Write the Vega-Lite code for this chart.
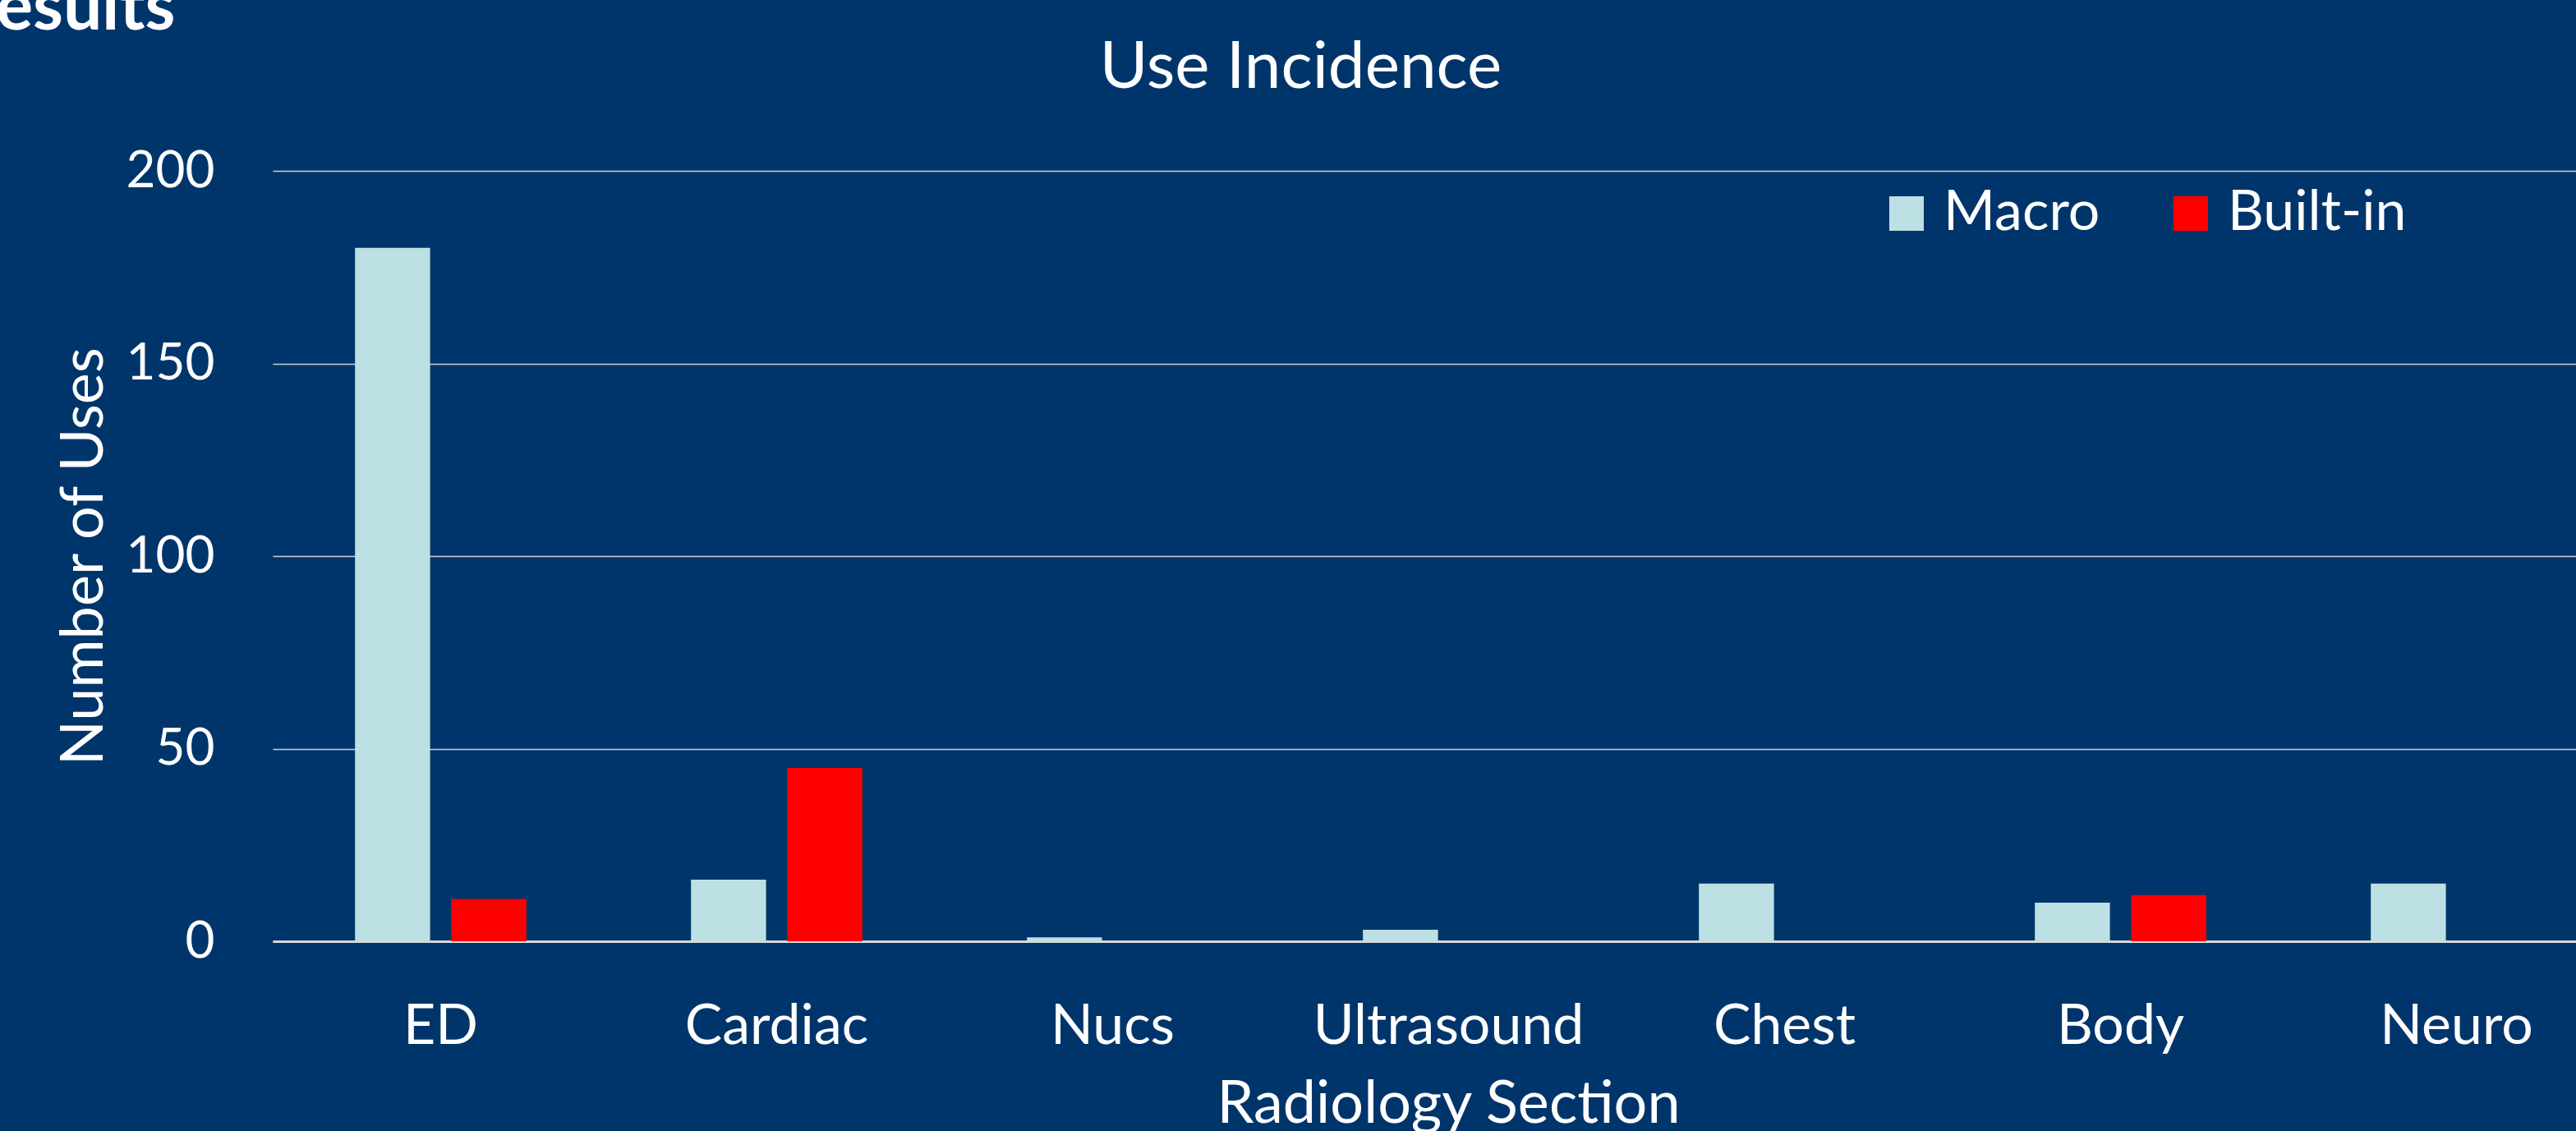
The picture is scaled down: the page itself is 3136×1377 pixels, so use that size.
{
  "$schema": "https://vega.github.io/schema/vega-lite/v6.json",
  "autosize": {"type": "none"},
  "width": 2863,
  "height": 938,
  "padding": {"left": 332, "top": 208, "right": 0, "bottom": 231},
  "background": "#00356b",
  "config": {"view": {"stroke": null}, "font": "Lato"},
  "title": {
    "text": "Results",
    "orient": "none",
    "anchor": "start",
    "align": "left",
    "baseline": "alphabetic",
    "dx": -388,
    "dy": -172,
    "fontSize": 84,
    "fontWeight": "bold",
    "color": "#ffffff",
    "font": "Lato"
  },
  "data": {
    "values": [
      {"section": "ED", "type": "Macro", "uses": 180},
      {"section": "ED", "type": "Built-in", "uses": 11},
      {"section": "Cardiac", "type": "Macro", "uses": 16},
      {"section": "Cardiac", "type": "Built-in", "uses": 45},
      {"section": "Nucs", "type": "Macro", "uses": 1},
      {"section": "Nucs", "type": "Built-in", "uses": 0},
      {"section": "Ultrasound", "type": "Macro", "uses": 3},
      {"section": "Ultrasound", "type": "Built-in", "uses": 0},
      {"section": "Chest", "type": "Macro", "uses": 15},
      {"section": "Chest", "type": "Built-in", "uses": 0},
      {"section": "Body", "type": "Macro", "uses": 10},
      {"section": "Body", "type": "Built-in", "uses": 12},
      {"section": "Neuro", "type": "Macro", "uses": 15},
      {"section": "Neuro", "type": "Built-in", "uses": 0}
    ]
  },
  "encoding": {
    "x": {
      "field": "section",
      "type": "nominal",
      "sort": ["ED", "Cardiac", "Nucs", "Ultrasound", "Chest", "Body", "Neuro"],
      "scale": {"paddingInner": 0.49, "paddingOuter": 0.245},
      "axis": {
        "orient": "bottom",
        "title": "Radiology Section",
        "labelAngle": 0,
        "labelFontSize": 68,
        "labelColor": "#ffffff",
        "labelBaseline": "alphabetic",
        "labelPadding": 124,
        "labelLimit": 800,
        "ticks": false,
        "grid": false,
        "domain": true,
        "domainColor": "#d9d9d9",
        "domainWidth": 3,
        "titleFontSize": 72,
        "titleFontWeight": "normal",
        "titleColor": "#ffffff",
        "titleBaseline": "alphabetic",
        "titleAlign": "center",
        "titleX": 1431,
        "titleY": 220,
        "titleLimit": 1200
      }
    },
    "xOffset": {
      "field": "type",
      "type": "nominal",
      "sort": ["Macro", "Built-in"],
      "scale": {"paddingInner": 0.22, "paddingOuter": 0}
    },
    "y": {
      "field": "uses",
      "type": "quantitative",
      "scale": {"domain": [0, 200], "nice": false},
      "axis": {
        "title": "Number of Uses",
        "values": [0, 50, 100, 150, 200],
        "labelFontSize": 62,
        "labelColor": "#ffffff",
        "labelPadding": 71,
        "ticks": false,
        "domain": false,
        "grid": true,
        "gridColor": "#d0d0d0",
        "gridWidth": 1.5,
        "titleFontSize": 72,
        "titleFontWeight": "normal",
        "titleColor": "#ffffff",
        "titleAngle": 270,
        "titleBaseline": "alphabetic",
        "titleAlign": "center",
        "titleX": -208,
        "titleY": 469,
        "titleLimit": 1200
      }
    },
    "color": {
      "field": "type",
      "type": "nominal",
      "sort": ["Macro", "Built-in"],
      "scale": {"domain": ["Macro", "Built-in"], "range": ["#bde0e4", "#ff0000"]},
      "legend": {
        "title": null,
        "orient": "none",
        "direction": "horizontal",
        "legendX": 1955,
        "legendY": 18,
        "symbolType": "square",
        "symbolSize": 1764,
        "symbolStrokeWidth": 0,
        "symbolOpacity": 1,
        "labelFontSize": 68,
        "labelColor": "#ffffff",
        "labelOffset": 11,
        "columnPadding": 76,
        "labelLimit": 400
      }
    }
  },
  "layer": [
    {"mark": {"type": "bar"}},
    {
      "mark": {"type": "bar", "opacity": 0},
      "encoding": {
        "x": {
          "field": "section",
          "type": "nominal",
          "sort": ["ED", "Cardiac", "Nucs", "Ultrasound", "Chest", "Body", "Neuro"],
          "axis": {
            "orient": "top",
            "title": "Use Incidence",
            "labels": false,
            "ticks": false,
            "domain": false,
            "grid": false,
            "titleFontSize": 80,
            "titleFontWeight": "normal",
            "titleColor": "#ffffff",
            "titleBaseline": "alphabetic",
            "titleAlign": "center",
            "titleX": 1251,
            "titleY": -102,
            "titleLimit": 1200
          }
        }
      }
    }
  ],
  "resolve": {"axis": {"x": "independent"}}
}
